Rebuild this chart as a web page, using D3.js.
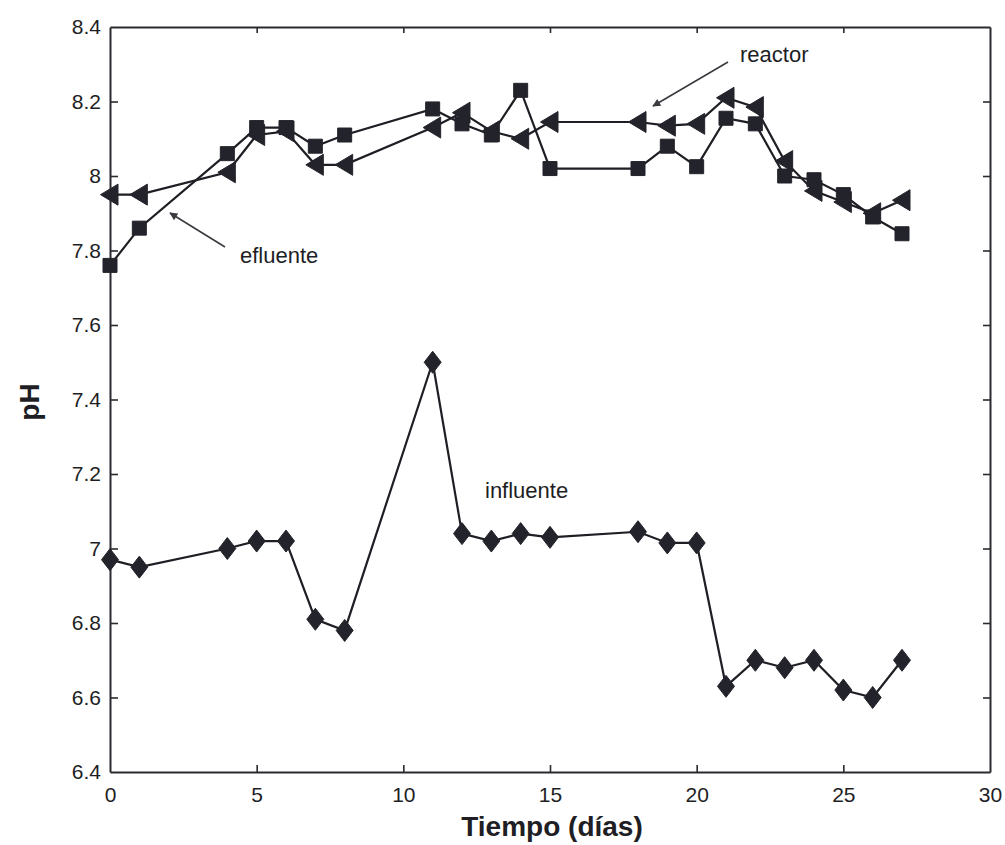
<!DOCTYPE html>
<html>
<head>
<meta charset="utf-8">
<script src="https://cdn.jsdelivr.net/npm/d3@7"></script>
<style>
  html, body { margin: 0; padding: 0; background: #fff; }
  svg { display: block; }
  text { font-family: "Liberation Sans", Arial, Helvetica, sans-serif; fill: #1e1e24; }
</style>
</head>
<body>
<svg id="chart" width="1005" height="845"></svg>
<script>
// Sampling days
const days = [0, 1, 4, 5, 6, 7, 8, 11, 12, 13, 14, 15, 18, 19, 20, 21, 22, 23, 24, 25, 26, 27];

// pH of the effluent (squares)
const effluent = [7.76, 7.86, 8.06, 8.13, 8.13, 8.08, 8.11, 8.18, 8.14, 8.11, 8.23, 8.02,
                  8.02, 8.08, 8.025, 8.155, 8.14, 8.00, 7.99, 7.95, 7.89, 7.845];

// pH inside the reactor (left-pointing triangles)
const reactor = [7.95, 7.95, 8.01, 8.11, 8.12, 8.03, 8.03, 8.13, 8.17, 8.12, 8.10, 8.145,
                 8.145, 8.135, 8.14, 8.21, 8.185, 8.04, 7.96, 7.93, 7.90, 7.935];

// pH of the influent (diamonds)
const influent = [6.97, 6.95, 7.00, 7.02, 7.02, 6.81, 6.78, 7.50, 7.04, 7.02, 7.04, 7.03,
                  7.045, 7.015, 7.015, 6.63, 6.70, 6.68, 6.70, 6.62, 6.60, 6.70];

// Axis ticks
const xTicks = [0, 5, 10, 15, 20, 25, 30];
const yTicks = [6.4, 6.6, 6.8, 7, 7.2, 7.4, 7.6, 7.8, 8, 8.2, 8.4];

const ink = "#1e1e24";
const svg = d3.select("#chart");

const plot = { left: 110, right: 990, top: 27, bottom: 772 };
const x = d3.scaleLinear().domain([0, 30]).range([plot.left, plot.right]);
const y = d3.scaleLinear().domain([6.4, 8.4]).range([plot.bottom, plot.top]);

// Frame axes with inward ticks
const fmtY = d => (d === 7 || d === 8) ? String(d) : d3.format(".1f")(d);

svg.append("g").attr("transform", `translate(0,${plot.bottom})`)
  .call(d3.axisBottom(x).tickValues(xTicks).tickSizeInner(-7).tickSizeOuter(0).tickPadding(15).tickFormat(d3.format("d")))
  .call(g => g.selectAll(".tick line").filter(d => d === 0 || d === 30).remove());

svg.append("g").attr("transform", `translate(${plot.left},0)`)
  .call(d3.axisLeft(y).tickValues(yTicks).tickSizeInner(-8).tickSizeOuter(0).tickPadding(9).tickFormat(fmtY))
  .call(g => g.selectAll(".tick line").filter(d => d === 6.4 || d === 8.4).remove());

svg.append("g").attr("transform", `translate(0,${plot.top})`)
  .call(d3.axisTop(x).tickValues(xTicks).tickSizeInner(-6).tickSizeOuter(0).tickFormat(""))
  .call(g => g.selectAll(".tick line").filter(d => d === 0 || d === 30).remove());

svg.append("g").attr("transform", `translate(${plot.right},0)`)
  .call(d3.axisRight(y).tickValues(yTicks).tickSizeInner(-7).tickSizeOuter(0).tickFormat(""))
  .call(g => g.selectAll(".tick line").filter(d => d === 6.4 || d === 8.4).remove());

svg.selectAll(".domain").attr("stroke", "#2a2a30").attr("stroke-width", 2);
svg.selectAll(".tick line").attr("stroke", "#2a2a30").attr("stroke-width", 1.6);
svg.selectAll(".tick text")
  .style("font-size", "21px")
  .style("font-family", "'Liberation Sans', Arial, sans-serif")
  .attr("fill", ink);

// Axis titles
svg.append("text")
  .attr("x", 552).attr("y", 836)
  .attr("text-anchor", "middle")
  .style("font-size", "28px").style("font-weight", "bold")
  .text("Tiempo (días)");

svg.append("text")
  .attr("transform", "translate(39,402) rotate(-90)")
  .attr("text-anchor", "middle")
  .style("font-size", "28px").style("font-weight", "bold")
  .text("pH");

// Series
const line = d3.line().x(d => x(d[0])).y(d => y(d[1]));
const series = [
  { values: influent, shape: "diamond" },
  { values: reactor, shape: "triangle" },
  { values: effluent, shape: "square" }
];

const shapes = {
  square: "M-7,-7H7V7H-7Z",
  triangle: "M-9.5,0L8,-10.5L8,10.5Z",
  diamond: "M0,-11L8.5,0L0,11L-8.5,0Z"
};

series.forEach(s => {
  const pts = days.map((d, i) => [d, s.values[i]]);
  svg.append("path")
    .attr("d", line(pts))
    .attr("fill", "none")
    .attr("stroke", ink)
    .attr("stroke-width", 2.2);
});

series.forEach(s => {
  const pts = days.map((d, i) => [d, s.values[i]]);
  svg.append("g").selectAll("path")
    .data(pts)
    .join("path")
    .attr("transform", d => `translate(${x(d[0])},${y(d[1])})`)
    .attr("d", shapes[s.shape])
    .attr("fill", "#23232b")
    .attr("stroke", "#23232b")
    .attr("stroke-width", 1);
});

// Annotations with arrows
svg.append("defs").append("marker")
  .attr("id", "head")
  .attr("viewBox", "0 0 10 10")
  .attr("refX", 9).attr("refY", 5)
  .attr("markerWidth", 12).attr("markerHeight", 8)
  .attr("markerUnits", "userSpaceOnUse")
  .attr("orient", "auto")
  .append("path").attr("d", "M0,0L10,5L0,10Z").attr("fill", "#3a3a40");

svg.append("line")
  .attr("x1", 225).attr("y1", 247).attr("x2", 170).attr("y2", 213)
  .attr("stroke", "#3a3a40").attr("stroke-width", 1.6)
  .attr("marker-end", "url(#head)");

svg.append("line")
  .attr("x1", 728).attr("y1", 62).attr("x2", 653).attr("y2", 106)
  .attr("stroke", "#3a3a40").attr("stroke-width", 1.6)
  .attr("marker-end", "url(#head)");

const labelStyle = sel => sel.style("font-size", "22px").attr("fill", "#2a2a30");

svg.append("text").attr("x", 240).attr("y", 263).text("efluente").call(labelStyle);
svg.append("text").attr("x", 740).attr("y", 62).text("reactor").call(labelStyle);
svg.append("text").attr("x", 485).attr("y", 498).text("influente").call(labelStyle);
</script>
</body>
</html>
